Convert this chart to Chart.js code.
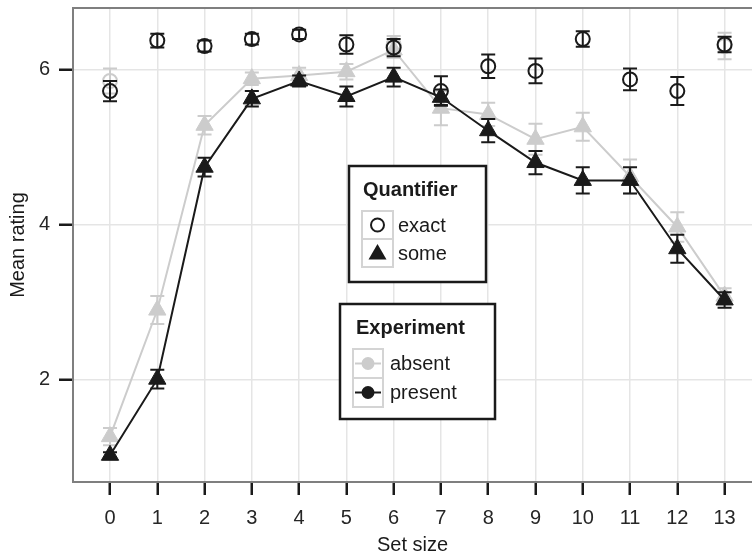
<!DOCTYPE html>
<html>
<head>
<meta charset="utf-8">
<title>Mean rating by set size</title>
<script src="https://cdn.jsdelivr.net/npm/chart.js@4.4.1/dist/chart.umd.min.js"></script>
<style>
  html, body { margin: 0; padding: 0; background: #fff; }
  #wrap { width: 752px; height: 557px; }
</style>
</head>
<body>
<div id="wrap"><canvas id="chart" width="752" height="557"></canvas></div>
<script>
// set sizes on the x axis
const setSizes = [0, 1, 2, 3, 4, 5, 6, 7, 8, 9, 10, 11, 12, 13];
const yTicks = [2, 4, 6];

// quantifier "exact"
const exactPresent    = [5.72, 6.37, 6.30, 6.39, 6.45, 6.32, 6.28, 5.72, 6.04, 5.98, 6.39, 5.87, 5.72, 6.32];
const exactPresentErr = [0.13, 0.09, 0.07, 0.07, 0.06, 0.12, 0.11, 0.19, 0.15, 0.16, 0.10, 0.14, 0.18, 0.10];
const exactAbsent     = [5.85, null, null, null, null, null, 6.32, null, null, null, null, null, null, 6.30];
const exactAbsentErr  = [0.16, null, null, null, null, null, 0.11, null, null, null, null, null, null, 0.17];

// quantifier "some"
const someAbsent      = [1.27, 2.90, 5.28, 5.88, 5.92, 5.97, 6.25, 5.50, 5.42, 5.10, 5.26, 4.62, 3.97, 3.08];
const someAbsentErr   = [0.11, 0.18, 0.12, 0.08, 0.10, 0.10, 0.10, 0.22, 0.15, 0.20, 0.18, 0.22, 0.19, 0.10];
const somePresent     = [1.03, 2.01, 4.74, 5.62, 5.85, 5.65, 5.90, 5.64, 5.21, 4.80, 4.57, 4.57, 3.69, 3.03];
const somePresentErr  = [0.04, 0.12, 0.12, 0.10, 0.07, 0.13, 0.12, 0.10, 0.15, 0.15, 0.17, 0.17, 0.18, 0.10];

const BLACK = '#1a1a1a';
const GREY = '#cccccc';
const FONT = '"Liberation Sans", Arial, Helvetica, sans-serif';

function points(values, errs) {
  const out = [];
  setSizes.forEach((s, i) => {
    if (values[i] !== null) out.push({ x: s, y: values[i], e: errs[i] });
  });
  return out;
}

// vertical error bars, drawn just under each dataset's own marks
const errorBars = {
  id: 'errorBars',
  beforeDatasetDraw(chart, args) {
    const ds = chart.data.datasets[args.index];
    const { ctx } = chart;
    const xs = chart.scales.x, ys = chart.scales.y;
    ctx.save();
    ctx.strokeStyle = ds.borderColor;
    ctx.lineWidth = 2;
    ds.data.forEach(p => {
      const px = xs.getPixelForValue(p.x);
      const top = ys.getPixelForValue(p.y + p.e);
      const bot = ys.getPixelForValue(p.y - p.e);
      ctx.beginPath();
      ctx.moveTo(px, top); ctx.lineTo(px, bot);
      ctx.moveTo(px - 7, top); ctx.lineTo(px + 7, top);
      ctx.moveTo(px - 7, bot); ctx.lineTo(px + 7, bot);
      ctx.stroke();
    });
    ctx.restore();
  }
};

// panel border
const panelFrame = {
  id: 'panelFrame',
  afterDatasetsDraw(chart) {
    const { ctx, chartArea: a } = chart;
    ctx.save();
    ctx.strokeStyle = '#7f7f7f';
    ctx.lineWidth = 2;
    ctx.strokeRect(a.left, a.top, a.right - a.left + 4, a.bottom - a.top);
    ctx.restore();
  }
};

// keep the panel edges fixed, no room reserved for edge labels
function noEdgePadding(s) {
  s.paddingTop = 0;
  s.paddingBottom = 0;
  s.paddingLeft = 0;
  s.paddingRight = 0;
}

function keyBox(ctx, x, y, w, h) {
  ctx.fillStyle = '#fff';
  ctx.fillRect(x, y, w, h);
  ctx.strokeStyle = '#d4d4d4';
  ctx.lineWidth = 2;
  ctx.strokeRect(x, y, w, h);
}

// the two guide boxes inside the panel
const guides = {
  id: 'guides',
  afterDraw(chart) {
    const ctx = chart.ctx;
    ctx.save();
    ctx.textBaseline = 'middle';
    ctx.textAlign = 'left';

    // Quantifier
    ctx.fillStyle = '#fff';
    ctx.fillRect(349, 166, 137, 116);
    ctx.strokeStyle = BLACK;
    ctx.lineWidth = 2.5;
    ctx.strokeRect(349, 166, 137, 116);
    ctx.fillStyle = BLACK;
    ctx.font = 'bold 20px ' + FONT;
    ctx.fillText('Quantifier', 363, 190);
    keyBox(ctx, 362, 211, 31, 28);
    keyBox(ctx, 362, 239, 31, 28);
    ctx.strokeStyle = BLACK;
    ctx.lineWidth = 2;
    ctx.beginPath();
    ctx.arc(377.5, 225, 6.5, 0, Math.PI * 2);
    ctx.stroke();
    ctx.fillStyle = BLACK;
    ctx.beginPath();
    ctx.moveTo(377.5, 244);
    ctx.lineTo(386.5, 259.5);
    ctx.lineTo(368.5, 259.5);
    ctx.closePath();
    ctx.fill();
    ctx.font = '20px ' + FONT;
    ctx.fillText('exact', 398, 226);
    ctx.fillText('some', 398, 254);

    // Experiment
    ctx.fillStyle = '#fff';
    ctx.fillRect(340, 304, 155, 115);
    ctx.strokeStyle = BLACK;
    ctx.lineWidth = 2.5;
    ctx.strokeRect(340, 304, 155, 115);
    ctx.fillStyle = BLACK;
    ctx.font = 'bold 20px ' + FONT;
    ctx.fillText('Experiment', 356, 328);
    keyBox(ctx, 353, 349, 30, 29);
    keyBox(ctx, 353, 378, 30, 29);
    [[GREY, 363.5], [BLACK, 392.5]].forEach(([c, cy]) => {
      ctx.strokeStyle = c;
      ctx.fillStyle = c;
      ctx.lineWidth = 2;
      ctx.beginPath();
      ctx.moveTo(355, cy); ctx.lineTo(381, cy);
      ctx.stroke();
      ctx.beginPath();
      ctx.arc(368, cy, 6.5, 0, Math.PI * 2);
      ctx.fill();
    });
    ctx.fillStyle = BLACK;
    ctx.font = '20px ' + FONT;
    ctx.fillText('absent', 390, 364);
    ctx.fillText('present', 390, 393);
    ctx.restore();
  }
};

Chart.defaults.font.family = FONT;

new Chart(document.getElementById('chart'), {
  type: 'line',
  data: {
    datasets: [
      {
        label: 'exact / present',
        data: points(exactPresent, exactPresentErr),
        showLine: false,
        pointStyle: 'circle',
        pointRadius: 7,
        borderWidth: 2,
        borderColor: BLACK,
        pointBorderColor: BLACK,
        pointBackgroundColor: 'rgba(0,0,0,0)',
        order: 1
      },
      {
        label: 'some / present',
        data: points(somePresent, somePresentErr),
        borderColor: BLACK,
        borderWidth: 2,
        pointStyle: 'triangle',
        pointRadius: 10,
        pointBorderWidth: 1,
        pointBorderColor: BLACK,
        pointBackgroundColor: BLACK,
        order: 2
      },
      {
        label: 'some / absent',
        data: points(someAbsent, someAbsentErr),
        borderColor: GREY,
        borderWidth: 2,
        pointStyle: 'triangle',
        pointRadius: 10,
        pointBorderWidth: 1,
        pointBorderColor: GREY,
        pointBackgroundColor: GREY,
        order: 3
      },
      {
        label: 'exact / absent',
        data: points(exactAbsent, exactAbsentErr),
        showLine: false,
        pointStyle: 'circle',
        pointRadius: 7,
        borderWidth: 2,
        borderColor: GREY,
        pointBorderColor: GREY,
        pointBackgroundColor: 'rgba(0,0,0,0)',
        order: 4
      }
    ]
  },
  options: {
    responsive: false,
    animation: false,
    devicePixelRatio: 1,
    layout: { autoPadding: false, padding: { top: 8, right: 0, left: 0, bottom: 0 } },
    plugins: { legend: { display: false }, tooltip: { enabled: false } },
    scales: {
      x: {
        type: 'linear',
        min: -0.783,
        max: 13.58,
        afterFit(s) { s.height = 75; noEdgePadding(s); },
        afterBuildTicks(s) { s.ticks = setSizes.map(v => ({ value: v })); },
        grid: {
          color: '#e5e5e5',
          lineWidth: 1.5,
          tickLength: 13,
          tickColor: BLACK,
          tickWidth: 2.5
        },
        border: { display: false },
        ticks: { color: '#262626', font: { size: 20 }, padding: 11, maxRotation: 0 },
        title: {
          display: true,
          text: 'Set size',
          color: BLACK,
          font: { size: 20 },
          padding: { top: 0, bottom: 0 }
        }
      },
      y: {
        min: 0.686,
        max: 6.79,
        afterFit(s) { s.width = 73; noEdgePadding(s); },
        afterBuildTicks(s) { s.ticks = yTicks.map(v => ({ value: v })); },
        grid: {
          color: '#e5e5e5',
          lineWidth: 1.5,
          tickLength: 14,
          tickColor: BLACK,
          tickWidth: 2.5
        },
        border: { display: false },
        ticks: { color: '#262626', font: { size: 20 }, padding: 9 },
        title: {
          display: true,
          text: 'Mean rating',
          color: BLACK,
          font: { size: 20 },
          padding: { top: 6, bottom: 0 }
        }
      }
    }
  },
  plugins: [errorBars, panelFrame, guides]
});
</script>
</body>
</html>
